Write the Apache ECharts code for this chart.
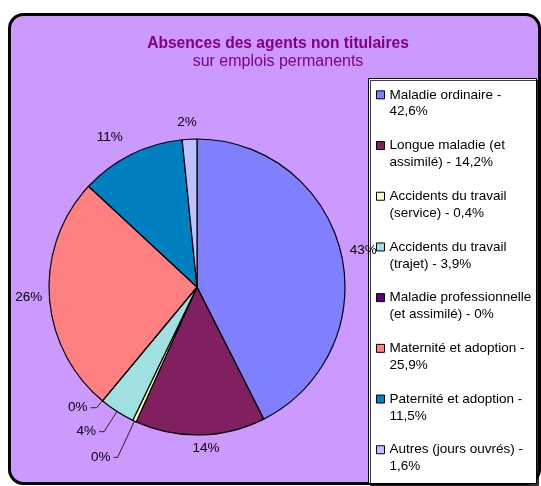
<!DOCTYPE html>
<html>
<head>
<meta charset="utf-8">
<script src="https://cdn.jsdelivr.net/npm/echarts@6/dist/echarts.min.js"></script>
<style>
  html, body { margin: 0; padding: 0; background: #fff; }
  #chart { width: 541px; height: 486px; }
</style>
</head>
<body>
<div id="chart"></div>
<script>
// données du graphique
const categories = [
  'Maladie ordinaire',
  'Longue maladie (et assimilé)',
  'Accidents du travail (service)',
  'Accidents du travail (trajet)',
  'Maladie professionnelle (et assimilé)',
  'Maternité et adoption',
  'Paternité et adoption',
  'Autres (jours ouvrés)'
]
const values = [42.6, 14.2, 0.4, 3.9, 0, 25.9, 11.5, 1.6]
const legendLabels = [
  'Maladie ordinaire -\n42,6%',
  'Longue maladie (et\nassimilé) - 14,2%',
  'Accidents du travail\n(service) - 0,4%',
  'Accidents du travail\n(trajet) - 3,9%',
  'Maladie professionnelle\n(et assimilé) - 0%',
  'Maternité et adoption -\n25,9%',
  'Paternité et adoption -\n11,5%',
  'Autres (jours ouvrés) -\n1,6%'
]

// style par part
const colors = ['#8080FF', '#802060', '#FFFFC0', '#A0E0E0', '#600080', '#FF8080', '#0080C0', '#C0C0FF']
const labelLen = [9, 13, 40, 24, 9, 7, 19, 17]
const labelLen2 = [0, 0, 4, 5, 6, 0, 0, 0]
const leader = [false, false, true, true, true, false, false, false]
// petits décalages des étiquettes (padding)
const labelPad = [[0, 0, 6, 0], [0, 0, 0, -8], 0, 0, 0, [6, 0, 0, 0], 0, [0, -8, 0, 0]]

const font = "'Liberation Sans', Arial, sans-serif"
const chart = echarts.init(document.getElementById('chart'))

chart.setOption({
  animation: false,
  backgroundColor: '#fff',
  graphic: [
    {
      type: 'rect', z: 0,
      shape: { x: 9.5, y: 14.5, width: 530, height: 469, r: 14 },
      style: { fill: '#CC99FF', stroke: '#000', lineWidth: 3 }
    },
    {
      type: 'rect', z: 1,
      shape: { x: 368.5, y: 78.5, width: 168, height: 405 },
      style: {
        fill: '#fff', stroke: '#000', lineWidth: 1,
        shadowColor: 'rgba(0,0,0,0.75)', shadowOffsetX: 2, shadowOffsetY: 2, shadowBlur: 0
      }
    }
  ],
  title: {
    text: 'Absences des agents non titulaires',
    subtext: 'sur emplois permanents',
    left: 278, top: 35, textAlign: 'center', padding: 0, itemGap: 0,
    textStyle: { fontFamily: font, fontSize: 15.6, fontWeight: 'bold', color: '#800080', lineHeight: 18 },
    subtextStyle: { fontFamily: font, fontSize: 16, color: '#800080', lineHeight: 18 }
  },
  legend: {
    orient: 'vertical',
    left: 376, top: 69.5, padding: 0, itemGap: 0,
    icon: 'rect', itemWidth: 8, itemHeight: 8,
    itemStyle: { borderColor: '#000', borderWidth: 1 },
    selectedMode: false,
    data: categories,
    // ligne vide en tête : la 1re ligne du libellé reste centrée sur le carré
    formatter: name => '\n' + legendLabels[categories.indexOf(name)],
    textStyle: { fontFamily: font, fontSize: 13.5, color: '#000', lineHeight: 16.9 }
  },
  series: [
    {
      type: 'pie',
      center: [197, 287],
      radius: 148,
      startAngle: 90,
      clockwise: true,
      avoidLabelOverlap: false,
      percentPrecision: 0,
      emphasis: { disabled: true },
      itemStyle: { borderColor: '#000', borderWidth: 1.2 },
      label: {
        position: 'outside',
        formatter: '{d}%',
        fontFamily: font, fontSize: 13.5, color: '#000',
        distanceToLabelLine: 0
      },
      labelLine: { lineStyle: { color: '#222', width: 1 } },
      data: categories.map((name, i) => ({
        name,
        value: values[i],
        itemStyle: { color: colors[i] },
        label: { distanceToLabelLine: leader[i] ? 3 : 0, padding: labelPad[i] },
        labelLine: { show: leader[i], length: labelLen[i], length2: labelLen2[i] }
      }))
    }
  ]
})
</script>
</body>
</html>
